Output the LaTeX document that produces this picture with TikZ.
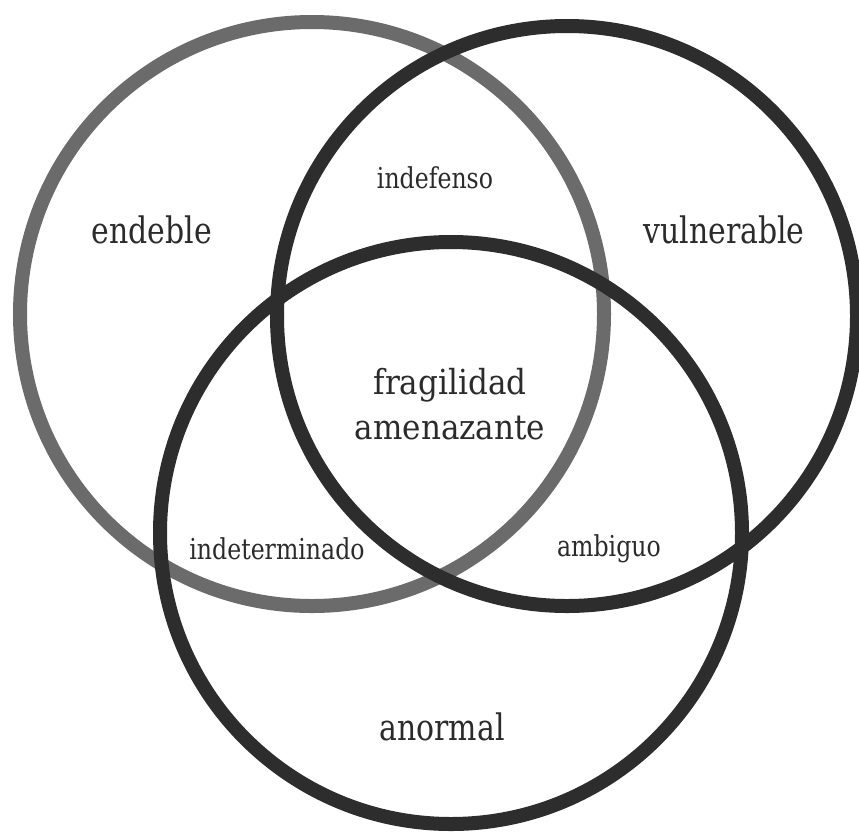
\documentclass[tikz,border=0pt]{standalone}
\usepackage{fontspec}
\setmainfont{DejaVu Serif}[FakeStretch=0.82]
\newfontfamily\corefont{DejaVu Serif}[FakeStretch=0.9]
\begin{document}
\begin{tikzpicture}[x=1pt,y=-1pt,
  ring/.style={line width=14pt},
  lightring/.style={ring,draw=ringgray},
  darkring/.style={ring,draw=ringdark},
  biglabel/.style={text=labelink,font=\fontsize{36.5}{40}\selectfont,inner sep=0pt},
  smalllabel/.style={text=labelink,font=\fontsize{28.8}{30}\selectfont,inner sep=0pt},
  corelabel/.style={text=labelink,font=\corefont\fontsize{34.5}{45}\selectfont,align=center,inner sep=0pt}]
\definecolor{ringgray}{HTML}{6B6B6B}
\definecolor{ringdark}{HTML}{2D2D2D}
\definecolor{labelink}{HTML}{2B2B2B}
\useasboundingbox (0,0) rectangle (859,836);
\fill[white] (0,0) rectangle (859,836);

% the three sets
\coordinate (cA) at (312,314);
\coordinate (cB) at (567,316);
\coordinate (cC) at (451,533);
\draw[lightring] (cA) circle[radius=292];
\draw[darkring] (cB) circle[radius=290];
\draw[darkring] (cC) circle[radius=291];

% region labels
\node[biglabel] (endeble) at (152,230) {endeble};
\node[biglabel] (vulnerable) at (724,230) {vulnerable};
\node[biglabel] (anormal) at (442,727) {anormal};
\node[smalllabel] (indefenso) at (435,178) {indefenso};
\node[smalllabel] (indeterminado) at (277,549) {indeterminado};
\node[smalllabel] (ambiguo) at (609,549) {ambiguo};
\node[corelabel] (core) at (450,404) {fragilidad\\amenazante};
\end{tikzpicture}
\end{document}
